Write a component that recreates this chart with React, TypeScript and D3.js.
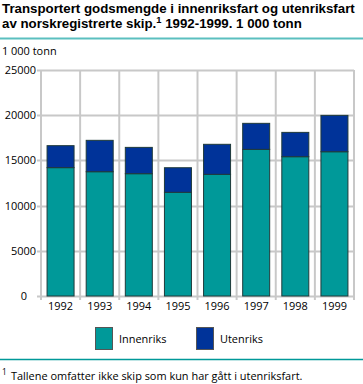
import React, { useLayoutEffect, useRef, useState } from "react";
import * as d3 from "d3";

const years = ["1992", "1993", "1994", "1995", "1996", "1997", "1998", "1999"];
const innenriks = [14200, 13750, 13530, 11470, 13460, 16220, 15410, 15960];
const utenriks = [2430, 3470, 2910, 2720, 3320, 2880, 2690, 4020];
const yTicks = [0, 5000, 10000, 15000, 20000, 25000];
const seriesNames = ["Innenriks", "Utenriks"];
const colors = ["#009999", "#003399"];

const W = 363, H = 384;
const left = 41, right = 354, top = 70, bottom = 296;
const font = "'Open Sans', 'Noto Sans', sans-serif";
const titleFont = "'Liberation Sans', Arial, sans-serif";

export default function App() {
  const titleRef = useRef<SVGTextElement>(null);
  const noteRef = useRef<SVGTextElement>(null);
  const [tSize, setTSize] = useState(12);
  const [bSize, setBSize] = useState(10.2);
  const [measured, setMeasured] = useState(false);
  useLayoutEffect(() => {
    if (titleRef.current) {
      const w = titleRef.current.getComputedTextLength();
      if (w > 0) setTSize(12 * 353 / w);
    }
    if (noteRef.current) {
      const w = noteRef.current.getComputedTextLength();
      if (w > 0) setBSize(10 * 292 / w);
    }
    setMeasured(true);
  }, []);

  const x = d3.scaleBand().domain(years).range([left, right]).paddingInner(0.31).paddingOuter(0.155);
  const xb = d3.scaleBand().domain(years).range([left, right]);
  const y = d3.scaleLinear().domain([0, 25000]).range([bottom, top]);
  const rows = years.map((yr, i) => ({ year: yr, Innenriks: innenriks[i], Utenriks: utenriks[i] }));
  const stack = d3.stack<any>().keys(seriesNames)(rows);
  const grid = "#c8c8c8";
  return (
    <svg width={W} height={H} style={{ position: "absolute", left: 0, top: 0, background: "#fff" }}>
      {!measured && (
        <g>
          <text ref={titleRef} x={0} y={-50} fontFamily={titleFont} fontWeight="bold" fontSize={12} visibility="hidden">
            Transportert godsmengde i innenriksfart og utenriksfart
          </text>
          <text ref={noteRef} x={0} y={-50} fontFamily={font} fontSize={10} visibility="hidden">
            Tallene omfatter ikke skip som kun har gått i utenriksfart.
          </text>
        </g>
      )}

      <text fontFamily={titleFont} fontWeight="bold" fontSize={tSize} fill="#000">
        <tspan x={2} y={13}>Transportert godsmengde i innenriksfart og utenriksfart</tspan>
      </text>
      <text fontFamily={titleFont} fontWeight="bold" fontSize={tSize} fill="#000">
        <tspan x={2} y={27.5}>av norskregistrerte skip.</tspan>
        <tspan dy={-5} fontSize={tSize * 0.7}>1</tspan>
        <tspan dy={5}> 1992-1999. 1 000 tonn</tspan>
      </text>
      <line x1={0} x2={W} y1={38.5} y2={38.5} stroke="#5bbfbf" strokeWidth={2} />
      <text x={2} y={55} fontFamily={font} fontSize={bSize} fill="#000">1 000 tonn</text>
      {yTicks.map((t) => (
        <g key={t}>
          <line x1={37} x2={right} y1={Math.round(y(t)) + 0.5} y2={Math.round(y(t)) + 0.5} stroke={grid} strokeWidth={2} />
          <text x={t === 0 ? 27 : 36} y={y(t) + 4} textAnchor="end" fontFamily={font} fontSize={bSize} fill="#000">{t}</text>
        </g>
      ))}
      {years.map((yr) => (
        <line key={yr} x1={xb(yr)!} x2={xb(yr)!} y1={top} y2={bottom + 4} stroke={grid} strokeWidth={2} />
      ))}
      <line x1={right} x2={right} y1={top} y2={bottom + 4} stroke={grid} strokeWidth={2} />
      {stack.map((s, si) =>
        s.map((d, i) => (
          <rect key={si + "-" + i} x={x(years[i])!} width={x.bandwidth()} y={y(d[1])} height={y(d[0]) - y(d[1])}
            fill={colors[si]} stroke="#1f3a3a" strokeWidth={1} />
        ))
      )}
      {years.map((yr) => (
        <text key={yr} x={xb(yr)! + xb.bandwidth() / 2} y={310} textAnchor="middle" fontFamily={font} fontSize={bSize} fill="#000">{yr}</text>
      ))}
      {seriesNames.map((n, i) => (
        <g key={n}>
          <rect x={95.5 + i * 101} y={327.5} width={17} height={22} fill={colors[i]} stroke="#555" strokeWidth={1} />
          <text x={119 + i * 101} y={343} fontFamily={font} fontSize={bSize} fill="#000">{n}</text>
        </g>
      ))}
      <line x1={0} x2={W} y1={359.5} y2={359.5} stroke="#009999" strokeWidth={1.5} />
      <text x={2} y={375} fontFamily={font} fontSize={bSize * 0.75} fill="#000">1</text>
      <text x={11} y={380} fontFamily={font} fontSize={bSize} fill="#000">Tallene omfatter ikke skip som kun har gått i utenriksfart.</text>
    </svg>
  );
}
